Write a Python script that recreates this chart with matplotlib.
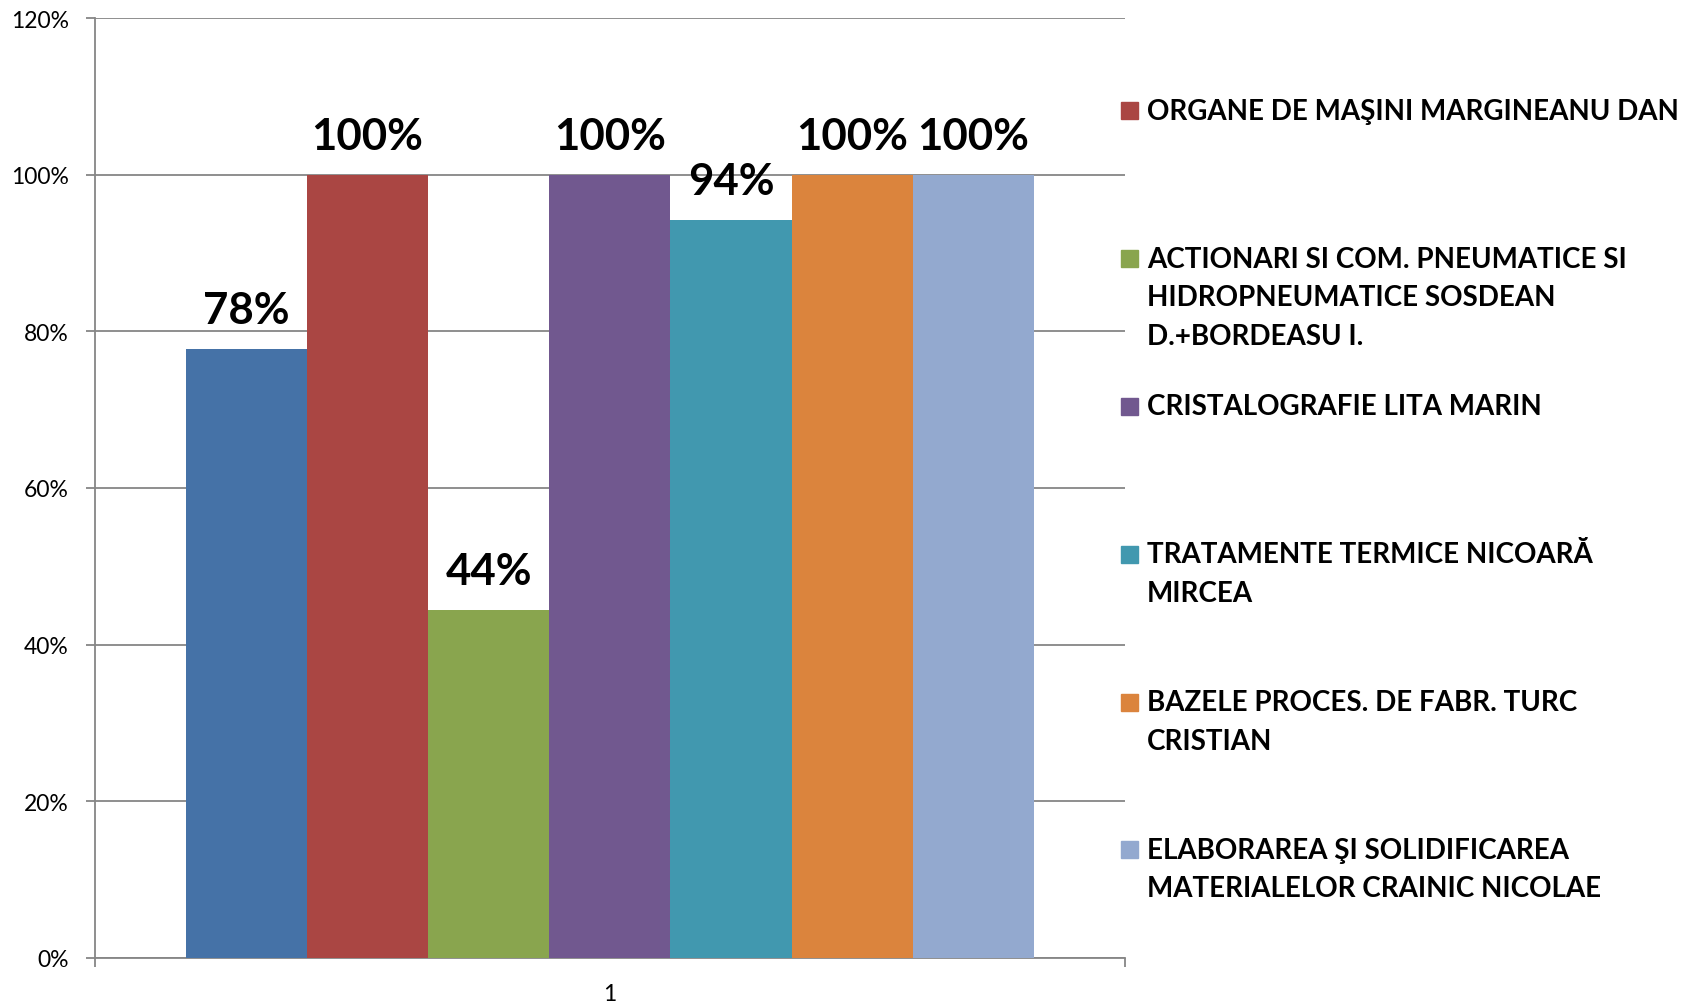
import matplotlib.pyplot as plt
from matplotlib.patches import Rectangle

# data
series = ['(blue series)',
          'ORGANE DE MAŞINI MARGINEANU DAN',
          'ACTIONARI SI COM. PNEUMATICE SI\nHIDROPNEUMATICE SOSDEAN\nD.+BORDEASU I.',
          'CRISTALOGRAFIE LITA MARIN',
          'TRATAMENTE TERMICE NICOARĂ\nMIRCEA',
          'BAZELE PROCES. DE FABR. TURC\nCRISTIAN',
          'ELABORAREA ŞI SOLIDIFICAREA\nMATERIALELOR CRAINIC NICOLAE']
values = [0.778, 1.00, 0.444, 1.00, 0.942, 1.00, 1.00]
labels = ['78%', '100%', '44%', '100%', '94%', '100%', '100%']
colors = ['#4572A7', '#AA4643', '#89A54E', '#71588F', '#4198AF', '#DB843D', '#93A9CF']
yticks = [0, 0.2, 0.4, 0.6, 0.8, 1.0, 1.2]
ytick_labels = ['0%', '20%', '40%', '60%', '80%', '100%', '120%']

plt.rcParams['font.family'] = ['Lato', 'DejaVu Sans']
W, H = 1685, 1004
fig = plt.figure(figsize=(W / 100, H / 100), dpi=100)
ax = fig.add_axes([94.6 / W, 1 - 958.6 / H, (1125 - 94.6) / W, (958.6 - 19.3) / H])

grey = '#868686'
w = 0.1176
n = len(values)
for i, (v, c, lab) in enumerate(zip(values, colors, labels)):
    x = 0.5 + (i - (n - 1) / 2) * w
    ax.bar(x, v, width=w, color=c, linewidth=0, zorder=3)
    ax.annotate(lab, (x, v), xytext=(0, 28), textcoords='offset points',
                ha='center', va='center', fontsize=31.5, fontweight='bold', zorder=4)

ax.set_xlim(0, 1)
ax.set_ylim(0, 1.2)
ax.set_yticks(yticks)
ax.set_yticklabels(ytick_labels)
ax.yaxis.grid(True, color=grey, linewidth=1.3)
ax.set_axisbelow(True)
ax.set_xticks([0.5])
ax.set_xticklabels(['1'])
ax.set_xticks([0, 1], minor=True)
ax.tick_params(axis='x', which='major', length=0, pad=18, labelsize=16.5)
ax.tick_params(axis='x', which='minor', length=6.5, width=1.3, color=grey)
ax.tick_params(axis='y', length=6.5, width=1.3, color=grey, labelsize=16.5, pad=12)
for s in ['top', 'right']:
    ax.spines[s].set_visible(False)
for s in ['left', 'bottom']:
    ax.spines[s].set_color(grey)
    ax.spines[s].set_linewidth(1.3)

# legend (the first series is not listed, as in the reference)
y0 = 111.8
step = 147.8
line_h = 38.7
for k, (name, c) in enumerate(zip(series[1:], colors[1:])):
    yc = y0 + k * step
    fig.patches.append(Rectangle((1121 / W, 1 - (yc + 8.5) / H), 17 / W, 17 / H,
                                 transform=fig.transFigure, color=c))
    for j, line in enumerate(name.split('\n')):
        fig.text(1147 / W, 1 - (yc + j * line_h) / H, line, ha='left', va='center',
                 fontsize=20, fontweight='bold')

fig.savefig('out.png', dpi=100)
